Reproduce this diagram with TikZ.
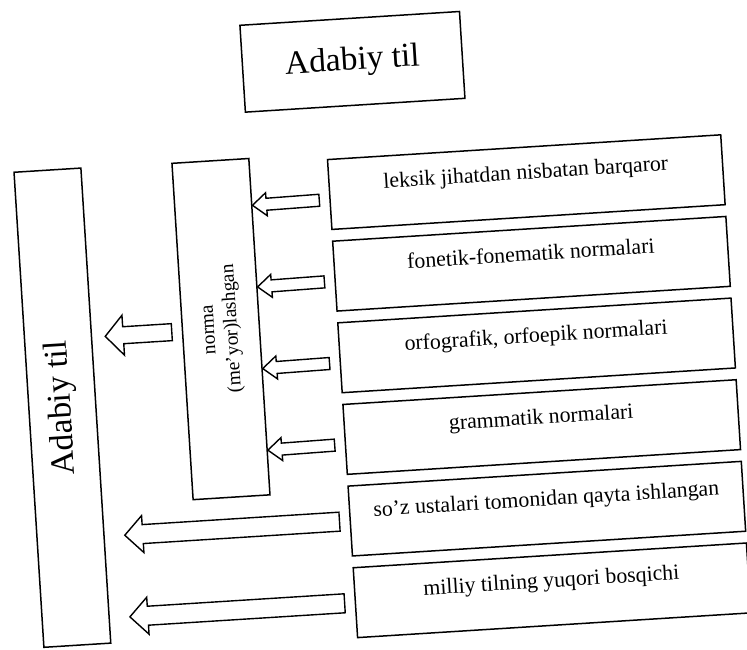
\documentclass[tikz,border=0pt]{standalone}
\usepackage{fontspec}
\setmainfont{Liberation Serif}
\usepackage{graphicx}
\usetikzlibrary{calc}
\tikzset{
  box/.style={draw, line width=1.5pt, rectangle, inner sep=0pt},
  rbox/.style={box, minimum width=394pt, minimum height=70pt,
    font=\fontsize{21.8}{26}\selectfont, text height=15pt, text depth=21pt},
  bigfont/.style={font=\fontsize{33.5}{40}\selectfont},
  barrow/.style={draw, line width=1.4pt, fill=white, line join=miter},
}
\newcommand{\blockarr}[5]{%
  \coordinate (baN) at ($(#2)!#5!(#1)$);
  \draw[barrow] ($(#1)!#3!90:(#2)$) -- ($(baN)!#3!90:(#2)$) -- ($(baN)!#4!90:(#2)$)
    -- (#2) -- ($(baN)!#4!-90:(#2)$) -- ($(baN)!#3!-90:(#2)$) -- ($(#1)!#3!-90:(#2)$) -- cycle;
}
\begin{document}
\begin{tikzpicture}[x=1pt,y=-1pt]
\useasboundingbox (0,0) rectangle (747,650);
\begin{scope}[rotate around={3.6:(373.5,325)}, transform shape]
  % boxes
  \node[box, bigfont, minimum width=220pt, minimum height=87pt] (top) at (369,61) {Adabiy til};
  \node[box, bigfont, minimum width=67pt, minimum height=476pt] (lit) at (57.8,388) {\rotatebox{90}{Adabiy til}};
  \node[box, minimum width=77pt, minimum height=337pt, font=\fontsize{19.5}{23}\selectfont] (norma) at (221,319.5)
    {\rotatebox{90}{\begin{tabular}{@{}c@{}}norma\\(me’yor)lashgan\end{tabular}}};
  \node[rbox] (b1) at (535,192) {leksik jihatdan nisbatan barqaror};
  \node[rbox] (b2) at (535,273.8) {fonetik-fonematik normalari};
  \node[rbox] (b3) at (535,355.6) {orfografik, orfoepik normalari};
  \node[rbox] (b4) at (535,437.4) {grammatik normalari};
  \node[rbox] (b5) at (535,519.2) {so’z ustalari tomonidan qayta ishlangan};
  \node[rbox] (b6) at (535,601) {milliy tilning yuqori bosqichi};
  % small arrows into the norma box
  \foreach \i in {1,2,3,4}{
    \coordinate (w\i) at ($(b\i.west)!5pt!-90:(b\i.east)$);
    \coordinate (t\i) at ($(w\i)!10pt!180:(b\i.east)$);
    \coordinate (h\i) at (intersection of w\i--b\i.east and norma.north east--norma.south east);
    \blockarr{t\i}{h\i}{6pt}{11.5pt}{14pt}
  }
  % arrow from norma box to the left box
  \coordinate (t0) at ($(norma.west)!10pt!180:(norma.east)$);
  \coordinate (e0) at (intersection of norma.west--norma.east and lit.north east--lit.south east);
  \coordinate (h0) at ($(e0)!13pt!(norma.west)$);
  \blockarr{t0}{h0}{8.5pt}{20pt}{18pt}
  % long arrows
  \foreach \i in {5,6}{
    \coordinate (t\i) at ($(b\i.west)!10pt!180:(b\i.east)$);
    \coordinate (e\i) at (intersection of b\i.west--b\i.east and lit.north east--lit.south east);
    \coordinate (h\i) at ($(e\i)!20pt!(b\i.west)$);
    \blockarr{t\i}{h\i}{9.5pt}{18.5pt}{18pt}
  }
\end{scope}
\end{tikzpicture}
\end{document}
